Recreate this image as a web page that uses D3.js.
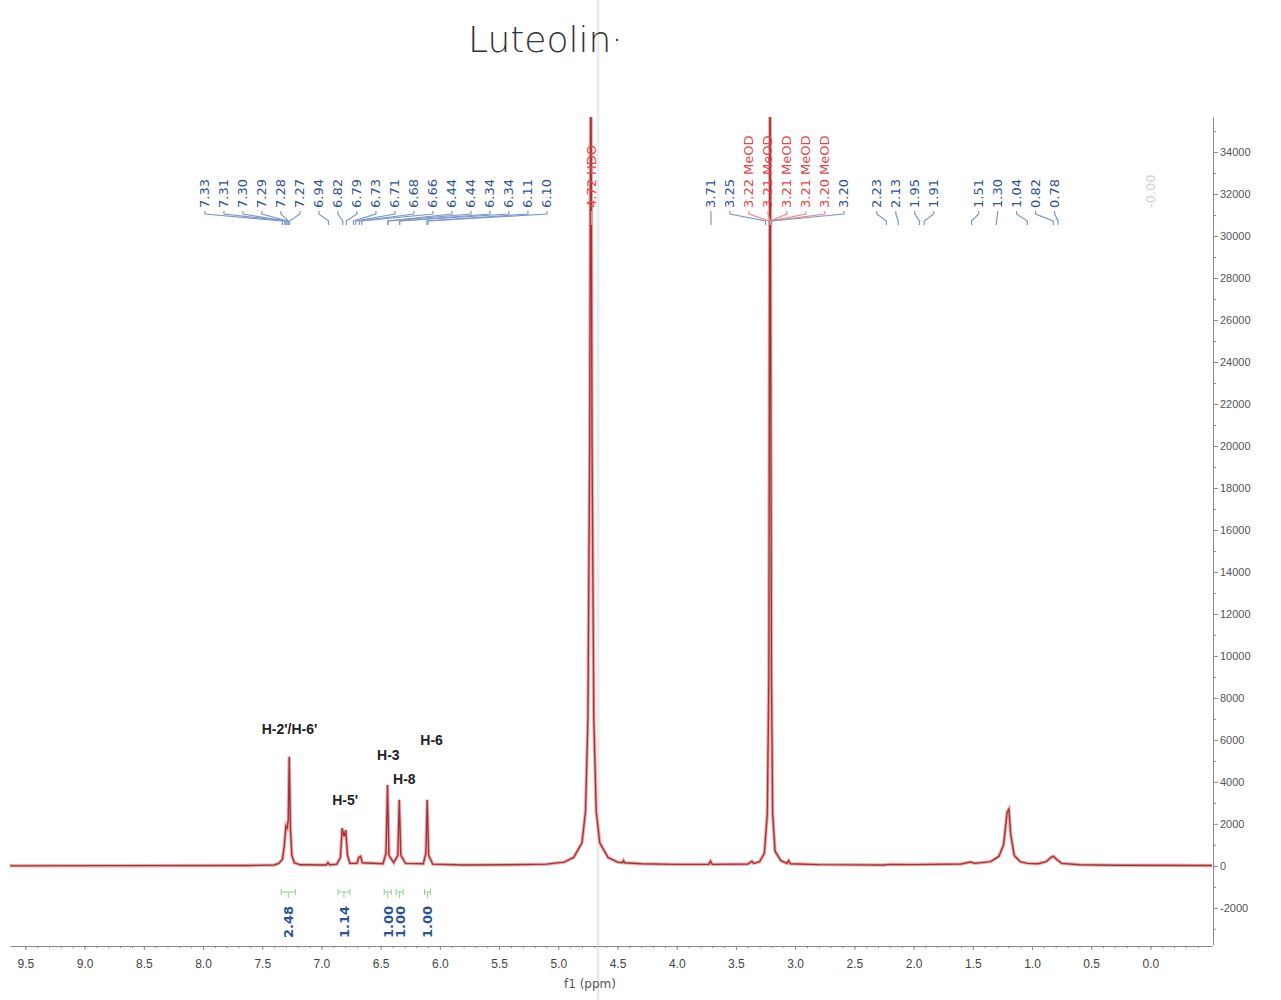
<!DOCTYPE html>
<html lang="en">
    <head>
        <meta charset="utf-8">
        <title>Luteolin 1H NMR</title>
        <style>
            body { margin: 0; background: white; }
            svg { display: block; font-family: "DejaVu Sans", sans-serif; }
            .axis path, .axis line { stroke: #8a8a8a; }
            .axis text { fill: #555; }
        </style>
    </head>
    <body>
        <svg width="1281" height="1000"></svg>
        <script src="https://d3js.org/d3.v7.min.js"></script>
        <script>

            // spectrum trace: [ppm, intensity]
            var trace = [
                [9.63, 0], [8.80, 10], [7.60, 20], [7.40, 40], [7.36, 120], [7.33, 300], [7.315, 900],
                [7.30, 1900], [7.29, 1800], [7.28, 2200], [7.272, 5200], [7.262, 1800], [7.25, 500],
                [7.23, 150], [7.18, 50], [6.96, 40], [6.945, 150], [6.93, 40], [6.87, 80], [6.84, 400],
                [6.825, 1800], [6.81, 1400], [6.795, 1700], [6.78, 500], [6.76, 120], [6.70, 120],
                [6.685, 400], [6.67, 450], [6.655, 150], [6.48, 100], [6.455, 600], [6.442, 3850],
                [6.43, 500], [6.39, 150], [6.355, 500], [6.343, 3150], [6.33, 500], [6.29, 120],
                [6.14, 100], [6.118, 600], [6.107, 3150], [6.095, 500], [6.06, 80], [5.80, 40],
                [5.40, 50], [5.10, 80], [4.95, 180], [4.87, 400], [4.80, 1100], [4.77, 2600],
                [4.75, 7000], [4.735, 20000], [4.725, 40000], [4.715, 20000], [4.70, 7000],
                [4.68, 2600], [4.65, 1100], [4.58, 400], [4.50, 180], [4.46, 150], [4.45, 250],
                [4.44, 150], [4.30, 100], [4.00, 70], [3.73, 70], [3.715, 220], [3.70, 70],
                [3.40, 90], [3.365, 220], [3.35, 120], [3.30, 200], [3.26, 600], [3.235, 2500],
                [3.222, 9000], [3.212, 40000], [3.200, 9000], [3.19, 2500], [3.17, 700], [3.12, 250],
                [3.07, 120], [3.055, 250], [3.04, 100], [2.80, 60], [2.25, 40], [2.20, 70], [2.00, 60],
                [1.60, 90], [1.52, 180], [1.48, 120], [1.35, 200], [1.28, 450], [1.24, 1000],
                [1.21, 2550], [1.195, 2700], [1.18, 1500], [1.15, 500], [1.10, 200], [1.04, 120],
                [0.95, 100], [0.88, 200], [0.84, 400], [0.82, 450], [0.79, 300], [0.75, 120],
                [0.60, 50], [0.30, 30], [-0.52, 20]
            ];

            // peak pick labels, in groups as printed across the top
            var peaksAromatic = ["7.33", "7.31", "7.30", "7.29", "7.28", "7.27", "6.94", "6.82", "6.79",
                                 "6.73", "6.71", "6.68", "6.66", "6.44", "6.44", "6.34", "6.34", "6.11", "6.10"];
            var peaksWater = ["4.72 HDO"];
            var peaksSolvent = ["3.71", "3.25", "3.22 MeOD", "3.21 MeOD", "3.21 MeOD", "3.21 MeOD", "3.20 MeOD", "3.20"];
            var peaksMid = ["2.23", "2.13", "1.95", "1.91"];
            var peaksHigh = ["1.51", "1.30", "1.04", "0.82", "0.78"];
            var peaksRef = ["-0.00"];

            // integrals
            var integralValues = ["2.48", "1.14", "1.00", "1.00", "1.00"];
            var integralFrom = [7.34, 6.86, 6.47, 6.37, 6.13];
            var integralTo = [7.22, 6.76, 6.41, 6.31, 6.08];

            // assignments
            var assignText = ["H-2'/H-6'", "H-5'", "H-3", "H-8", "H-6"];
            var assignPpm = [7.27, 6.80, 6.435, 6.30, 6.07];
            var assignLevel = [6300, 2900, 5050, 3900, 5750];

            var xTicks = [9.5, 9.0, 8.5, 8.0, 7.5, 7.0, 6.5, 6.0, 5.5, 5.0, 4.5, 4.0, 3.5, 3.0, 2.5, 2.0, 1.5, 1.0, 0.5, 0.0];
            var yTicks = [-2000, 0, 2000, 4000, 6000, 8000, 10000, 12000, 14000, 16000, 18000, 20000,
                          22000, 24000, 26000, 28000, 30000, 32000, 34000];

            var svg = d3.select("svg");

            var x = d3.scaleLinear().domain([9.63, -0.52]).range([10, 1212]);
            var y = d3.scaleLinear().domain([-3770, 35670]).range([945, 117]);

            // scan fold
            svg.append("line")
                .attr("x1", 598).attr("x2", 598).attr("y1", 0).attr("y2", 1000)
                .style("stroke", "#ececec").style("stroke-width", 3);

            // title (handwritten in the original)
            svg.append("text")
                .attr("x", 468).attr("y", 52)
                .style("font-family", "\"DejaVu Sans\", sans-serif")
                .style("font-weight", 200)
                .style("font-size", "36px")
                .style("fill", "#333")
                .text("Luteolin\u00b7");

            // axes
            var xAxis = svg.append("g")
                .attr("class", "axis")
                .attr("transform", "translate(0,946)")
                .call(d3.axisBottom(x).tickValues(xTicks).tickFormat(d3.format(".1f")).tickSize(4).tickSizeOuter(0));
            xAxis.selectAll("text").attr("dy", "1.25em").style("font-size", "12px").style("fill", "#444");

            svg.append("g")
                .attr("class", "axis")
                .attr("transform", "translate(0,946)")
                .call(d3.axisBottom(x).tickValues(d3.range(-4, 96).map(function(d) { return d / 10; }))
                    .tickFormat("").tickSize(2).tickSizeOuter(0))
                .select(".domain").remove();

            svg.append("text")
                .attr("x", 590).attr("y", 988)
                .attr("text-anchor", "middle")
                .style("font-size", "12px").style("fill", "#555")
                .text("f1 (ppm)");

            var yAxis = svg.append("g")
                .attr("class", "axis")
                .attr("transform", "translate(1213,0)")
                .call(d3.axisRight(y).tickValues(yTicks)
                    .tickFormat(function(d) { return String(d); })
                    .tickSize(5).tickSizeOuter(0));
            yAxis.selectAll("text").style("font-size", "11px").attr("x", 7);

            svg.append("g")
                .attr("class", "axis")
                .attr("transform", "translate(1213,0)")
                .call(d3.axisRight(y).tickValues(d3.range(-3000, 36000, 2000)).tickFormat("").tickSize(3).tickSizeOuter(0))
                .select(".domain").remove();

            // spectrum
            svg.append("clipPath").attr("id", "plot")
                .append("rect").attr("x", 10).attr("y", 117).attr("width", 1202).attr("height", 828);

            var line = d3.line()
                .x(function(d) { return x(d[0]); })
                .y(function(d) { return y(d[1]); });

            var spec = svg.append("g").attr("clip-path", "url(#plot)");

            // peak pick labels
            var groups = [
                {labels: peaksAromatic, anchor: 6.54},
                {labels: peaksWater, anchor: 4.72},
                {labels: peaksSolvent, anchor: 3.15},
                {labels: peaksMid, anchor: 2.07},
                {labels: peaksHigh, anchor: 1.13},
                {labels: peaksRef, anchor: 0.0}
            ];
            var step = 19;
            var labelLayer = svg.append("g");
            groups.forEach(function(g) {
                var n = g.labels.length;
                var x0 = x(g.anchor) - (n - 1) * step / 2;
                g.labels.forEach(function(lab, i) {
                    var lx = x0 + i * step;
                    var px = x(parseFloat(lab));
                    var isSolvent = lab.indexOf("MeOD") >= 0 || lab.indexOf("HDO") >= 0;
                    var isRef = lab === "-0.00";
                    var col = isSolvent ? "#e04848" : (isRef ? "#d4d4d4" : "#2f5496");
                    var lcol = isSolvent ? "#ec8a8a" : (isRef ? "#e4e4e4" : "#7d97c9");
                    labelLayer.append("text")
                        .attr("transform", "translate(" + (lx + 4.5) + ",208)rotate(-90)")
                        .style("font-size", "13px")
                        .style("fill", col)
                        .text(lab);
                    if (!isRef) {
                        labelLayer.append("path")
                            .attr("d", "M" + lx + ",211V214L" + px + ",221V225")
                            .style("fill", "none")
                            .style("stroke", lcol)
                            .style("stroke-width", 1.2);
                    }
                });
            });

            spec.append("path").datum(trace)
                .attr("d", line)
                .style("fill", "none")
                .style("stroke", "#eab0ae")
                .style("stroke-width", 3.5);
            spec.append("path").datum(trace)
                .attr("d", line)
                .style("fill", "none")
                .style("stroke", "#a8323a")
                .style("stroke-width", 1.4);

            // integrals
            integralValues.forEach(function(v, i) {
                var x1 = x(integralFrom[i]), x2 = x(integralTo[i]), xm = (x1 + x2) / 2;
                svg.append("path")
                    .attr("d", "M" + x1 + ",889V895M" + x1 + ",892H" + x2 + "M" + x2 + ",889V895M" + xm + ",892V898")
                    .style("fill", "none")
                    .style("stroke", "#8fd08f")
                    .style("stroke-width", 1);
                svg.append("text")
                    .attr("transform", "translate(" + (xm + 5) + ",938)rotate(-90)")
                    .style("font-size", "13px")
                    .style("font-weight", "bold")
                    .style("fill", "#2f5496")
                    .text(v);
            });

            // assignments
            assignText.forEach(function(t, i) {
                svg.append("text")
                    .attr("x", x(assignPpm[i]))
                    .attr("y", y(assignLevel[i]))
                    .attr("text-anchor", "middle")
                    .style("font-family", "\"Liberation Sans\", sans-serif")
                    .style("font-weight", "bold")
                    .style("font-size", "14px")
                    .style("fill", "#222")
                    .text(t);
            });

        </script>
    </body>
</html>
